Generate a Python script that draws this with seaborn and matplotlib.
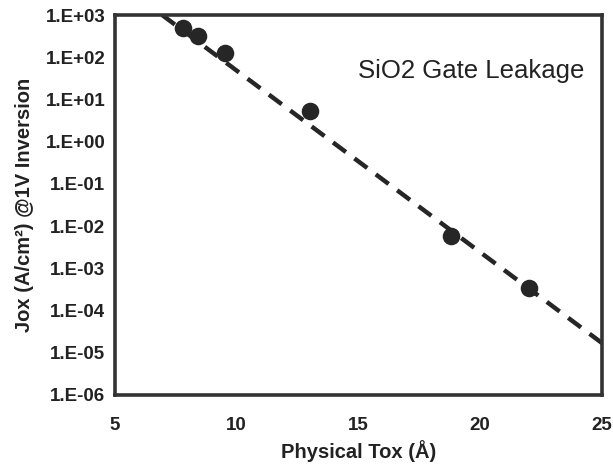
import matplotlib
matplotlib.use("Agg")
import matplotlib.pyplot as plt
import matplotlib.ticker as mticker
import numpy as np
import pandas as pd
import seaborn as sns

# Data
tox = [7.8, 8.4, 9.5, 13.0, 18.8, 22.0]
jox = [480, 310, 125, 5.3, 5.8e-3, 3.5e-4]
fit_tox = [5.0, 25.0]
fit_jox = [6.8e3, 1.7e-5]
x_ticks = [5, 10, 15, 20, 25]
y_exps = [3, 2, 1, 0, -1, -2, -3, -4, -5, -6]

sns.set_theme(style="white")
plt.rcParams['font.family'] = ['Liberation Sans', 'DejaVu Sans']

fig = plt.figure(figsize=(6.13, 4.66), dpi=100)
ax = fig.add_axes([0.1876, 0.1524, 0.7944, 0.8154])

pts = pd.DataFrame({"tox": tox, "jox": jox})
fit = pd.DataFrame({"tox": fit_tox, "jox": fit_jox})

sns.lineplot(data=fit, x="tox", y="jox", ax=ax, color="#262626", linewidth=3.2,
             dashes=False, linestyle=(0, (3.6, 2.4)), zorder=2)
sns.scatterplot(data=pts, x="tox", y="jox", ax=ax, color="#262626", s=160,
                edgecolor="#262626", linewidth=0, zorder=3)

ax.set_yscale("log")
ax.set_xlim(5, 25)
ax.set_ylim(1e-6, 1e3)
ax.set_xticks(x_ticks)
ax.set_yticks([10.0 ** e for e in y_exps])
ax.yaxis.set_major_formatter(mticker.FuncFormatter(
    lambda v, p: "1.E{:+03d}".format(int(round(np.log10(v))))))
ax.yaxis.set_minor_locator(mticker.NullLocator())

for s in ax.spines.values():
    s.set_color("#333333")
    s.set_linewidth(2.6)

ax.tick_params(axis="both", which="major", direction="out", length=4, width=1.2,
               color="#333333", labelsize=13.5, labelcolor="#222222", pad=3)
ax.tick_params(axis="x", pad=12)
for lbl in ax.get_xticklabels() + ax.get_yticklabels():
    lbl.set_fontweight("bold")

ax.set_xlabel("Physical Tox (Å)", fontsize=14.5, fontweight="bold", color="#222222",
              labelpad=4)
ax.set_ylabel("Jox (A/cm²) @1V Inversion", fontsize=14.5, fontweight="bold",
              color="#222222", labelpad=8)

ax.text(0.50, 0.852, "SiO2 Gate Leakage", transform=ax.transAxes, fontsize=18.5,
        color="#222222", ha="left", va="center")

fig.savefig("out.png", dpi=100)
